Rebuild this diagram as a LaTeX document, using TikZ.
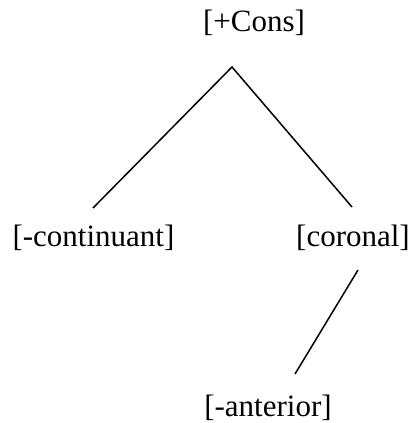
\documentclass[tikz,border=0pt]{standalone}
\usepackage{fontspec}
\setmainfont{Liberation Serif}
\begin{document}
\begin{tikzpicture}[x=1pt,y=-1pt,
  lbl/.style={anchor=base,inner sep=0pt,font=\fontsize{31}{36}\selectfont},
  edge/.style={line width=1.5pt}]
\useasboundingbox (0,0) rectangle (416,423);
\node[lbl] (cons) at (254,31) {[+Cons]};
\node[lbl] (cont) at (93.5,246) {[-continuant]};
\node[lbl] (cor) at (353,246) {[coronal]};
\node[lbl] (ant) at (268,416) {[-anterior]};
\coordinate (apex) at (232,67);
\coordinate (lend) at (93,208);
\coordinate (rend) at (352,207);
\coordinate (ctop) at (358,270);
\coordinate (cbot) at (295,374);
\draw[edge] (lend) -- (apex) -- (rend);
\draw[edge] (ctop) -- (cbot);
\end{tikzpicture}
\end{document}
